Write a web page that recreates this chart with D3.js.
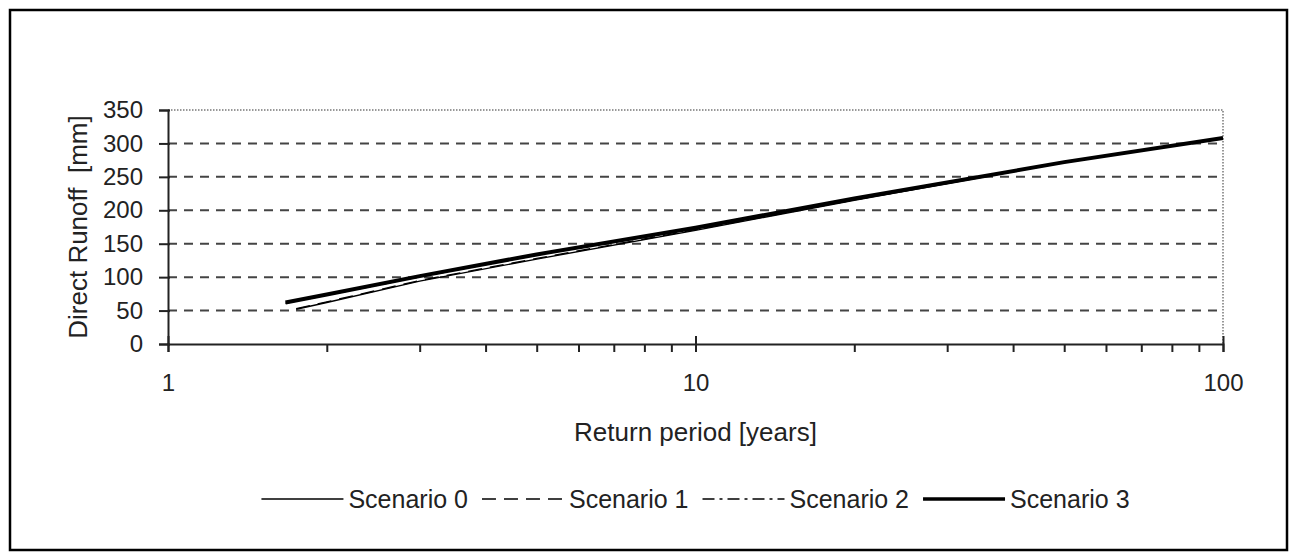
<!DOCTYPE html>
<html>
<head>
<meta charset="utf-8">
<script src="https://cdn.jsdelivr.net/npm/d3@7"></script>
<style>
  html, body { margin: 0; padding: 0; background: #fff; }
  svg { display: block; }
  text { font-family: "Liberation Sans", Arial, sans-serif; fill: #222; white-space: pre; }
</style>
</head>
<body>
<svg id="chart" width="1297" height="560"></svg>
<script>
// ---- data ----
const scenarioNames = ["Scenario 0", "Scenario 1", "Scenario 2", "Scenario 3"];
const periodsLow  = [1.75, 2, 3, 5, 10, 20, 30, 50, 100];
const periodsHigh = [1.67, 2, 3, 5, 10, 20, 30, 50, 100];
const scenario0 = [52, 62, 94, 127, 170, 215, 240, 271.5, 307.5];
const scenario1 = [53, 63, 95, 128, 171, 215.5, 240.5, 272, 308];
const scenario2 = [61, 73, 100.5, 133, 173, 217, 241, 272, 308];
const scenario3 = [62, 74, 101.5, 134, 174, 217.5, 241.5, 272, 308];
const yTicks = [0, 50, 100, 150, 200, 250, 300, 350];
const xTicks = [1, 2, 3, 4, 5, 6, 7, 8, 9, 10, 20, 30, 40, 50, 60, 70, 80, 90, 100];
const xLabels = [1, 10, 100];
const xTitle = "Return period [years]";
const yTitle = "Direct Runoff  [mm]";

(function () {
const seriesPeriods = [periodsLow, periodsLow, periodsHigh, periodsHigh];
const seriesValues = [scenario0, scenario1, scenario2, scenario3];
const seriesStyle = [
  { width: 1.4, dash: null },
  { width: 1.4, dash: "14,8" },
  { width: 1.4, dash: "12,5,3,5" },
  { width: 4, dash: null }
];

// ---- layout ----
const svg = d3.select("#chart");
const pL = 168, pR = 1223, pT = 110, pB = 344;
const x = d3.scaleLog().domain([1, 100]).range([pL, pR]);
const y = d3.scaleLinear().domain([0, 350]).range([pB, pT]);
const FS = 24, FT = 26, FL = 25;
const FF = '"Liberation Sans", Arial, sans-serif';

// outer border
svg.append("rect").attr("x", 10).attr("y", 10).attr("width", 1277).attr("height", 540)
  .attr("fill", "#fff").attr("stroke", "#000").attr("stroke-width", 2.5);

// gridlines (dashed), skip 0 and 350
svg.append("g").selectAll("line").data(yTicks.filter(v => v > 0 && v < 350)).join("line")
  .attr("x1", pL).attr("x2", pR)
  .attr("y1", d => y(d)).attr("y2", d => y(d))
  .attr("stroke", "#444").attr("stroke-width", 2).attr("stroke-dasharray", "9,7");

// dotted plot border top & right
svg.append("path")
  .attr("d", `M${pL},${y(350)}H${x(100)}V${y(0)}`)
  .attr("fill", "none").attr("stroke", "#777").attr("stroke-width", 1.5)
  .attr("stroke-dasharray", "1.5,1.5");

// series lines
const line = d3.line().x(d => x(d[0])).y(d => y(d[1]));
seriesValues.forEach((vals, i) => {
  const pts = vals.map((v, j) => [seriesPeriods[i][j], v]);
  svg.append("path").datum(pts)
    .attr("d", line)
    .attr("fill", "none").attr("stroke", "#000")
    .attr("stroke-width", seriesStyle[i].width)
    .attr("stroke-dasharray", seriesStyle[i].dash)
    .attr("stroke-linejoin", "miter");
});

// y axis
const yAxis = d3.axisLeft(y).tickValues(yTicks).tickSize(9).tickPadding(16).tickFormat(d3.format("d"));
const gy = svg.append("g").attr("transform", `translate(${pL},0)`).call(yAxis);
gy.select(".domain").attr("stroke", "#222").attr("stroke-width", 2);
gy.selectAll(".tick line").attr("stroke", "#222").attr("stroke-width", 2).attr("x2", -9).attr("x1", 2);
gy.selectAll(".tick text").attr("font-size", FS).attr("fill", "#222").style("font-family", FF);

// x axis
const xAxis = d3.axisBottom(x).tickValues(xTicks).tickSize(8).tickPadding(22)
  .tickFormat(d => xLabels.includes(d) ? String(d) : "");
const gx = svg.append("g").attr("transform", `translate(0,${pB})`).call(xAxis);
gx.select(".domain").attr("stroke", "#222").attr("stroke-width", 2);
gx.selectAll(".tick line").attr("stroke", "#222").attr("stroke-width", 2)
  .attr("y1", d => xLabels.includes(d) ? -8 : 0);
gx.selectAll(".tick text").attr("font-size", FS).attr("fill", "#222").style("font-family", FF);

// axis titles
svg.append("text").attr("x", (pL + pR) / 2).attr("y", 441)
  .attr("text-anchor", "middle").attr("font-size", FT).text(xTitle);
svg.append("text")
  .attr("transform", `translate(87,${(pT + pB) / 2}) rotate(-90)`)
  .attr("text-anchor", "middle").attr("font-size", FT).text(yTitle);

// legend
const legendY = 499, sampleLen = 82, sampleGap = 5, itemGap = 14;
const lg = svg.append("g");
let cursor = 0;
scenarioNames.forEach((name, i) => {
  const g = lg.append("g");
  g.append("line").attr("x1", cursor).attr("x2", cursor + sampleLen)
    .attr("y1", legendY).attr("y2", legendY)
    .attr("stroke", "#000").attr("stroke-width", seriesStyle[i].width === 4 ? 3.5 : 1.4)
    .attr("stroke-dasharray", seriesStyle[i].dash);
  const t = g.append("text").attr("x", cursor + sampleLen + sampleGap).attr("y", legendY + 9)
    .attr("font-size", FL).text(name);
  const w = t.node().getComputedTextLength();
  cursor += sampleLen + sampleGap + w + itemGap;
});
const totalW = cursor - itemGap;
lg.attr("transform", `translate(${(pL + pR) / 2 - totalW / 2},0)`);
})();
</script>
</body>
</html>
